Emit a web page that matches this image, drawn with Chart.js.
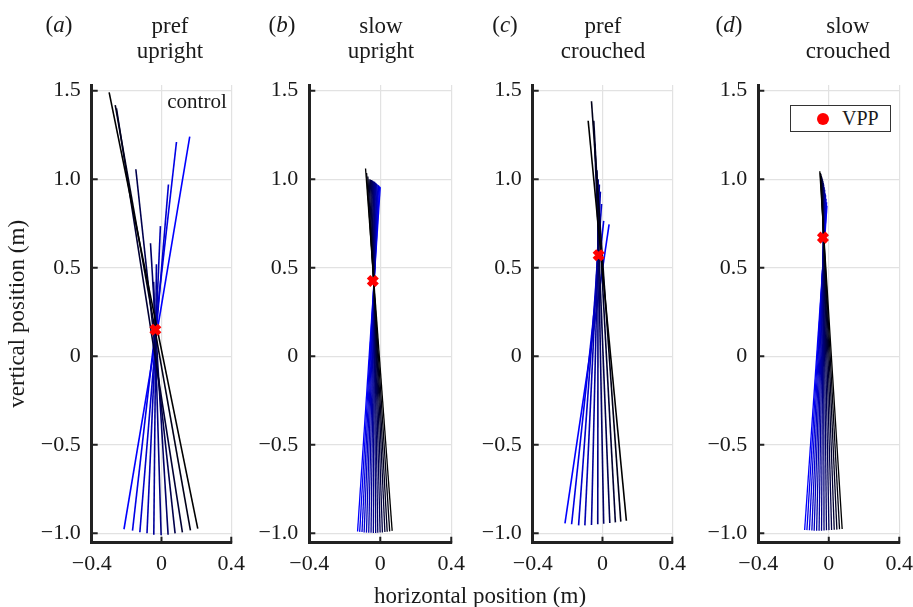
<!DOCTYPE html>
<html>
<head>
<meta charset="utf-8">
<script src="https://cdn.jsdelivr.net/npm/chart.js@4"></script>
<style>
  body { margin: 0; background: #fff; }
  #wrap { position: relative; width: 913px; height: 607px; overflow: hidden; font-family: "Liberation Serif", "DejaVu Serif", serif; color: #1a1a1a; }
  canvas { position: absolute; top: 0; }
  .t { position: absolute; font-size: 23px; line-height: 25px; text-align: center; white-space: nowrap; transform: translate(-50%, -50%); }
  .lab { position: absolute; font-size: 23px; white-space: nowrap; transform: translate(-50%, -50%); }
  #legend { position: absolute; left: 790px; top: 105px; width: 99px; height: 25px; border: 1px solid #333; background: #fff; font-size: 20px; }
  #legend .mk { position: absolute; left: 26px; top: 7px; width: 12px; height: 12px; border-radius: 50%; background: #ff0000; }
  #legend .tx { position: absolute; left: 51px; top: 0px; line-height: 25px; }
</style>
</head>
<body>
<div id="wrap">
  <canvas id="ca"></canvas>
  <canvas id="cb"></canvas>
  <canvas id="cc"></canvas>
  <canvas id="cd"></canvas>

  <div class="lab" style="left:59px; top:25px;">(<i>a</i>)</div>
  <div class="t" style="left:170px; top:38px;">pref<br>upright</div>
  <div class="lab" style="left:282px; top:25px;">(<i>b</i>)</div>
  <div class="t" style="left:381px; top:38px;">slow<br>upright</div>
  <div class="lab" style="left:505px; top:25px;">(<i>c</i>)</div>
  <div class="t" style="left:603px; top:38px;">pref<br>crouched</div>
  <div class="lab" style="left:729px; top:25px;">(<i>d</i>)</div>
  <div class="t" style="left:848px; top:38px;">slow<br>crouched</div>

  <div class="lab" style="left:197px; top:101px; font-size:21px;">control</div>
  <div id="legend"><span class="mk"></span><span class="tx">VPP</span></div>

  <div class="lab" style="left:480px; top:596px;">horizontal position (m)</div>
</div>

<script>
// tick values and labels
const xTicks = [-0.4, 0, 0.4];
const xTickLabels = ['\u22120.4', '0', '0.4'];
const yTicks = [-1.0, -0.5, 0, 0.5, 1.0, 1.5];
const yTickLabels = ['\u22121.0', '\u22120.5', '0', '0.5', '1.0', '1.5'];

// (a) pref upright - foot (bottom) and top end of each line
const aFootX = [-0.215, -0.166, -0.124, -0.083, -0.044, -0.002, 0.038, 0.078, 0.12, 0.166, 0.208];
const aFootY = [-0.977, -0.985, -0.994, -1.0, -1.008, -1.011, -1.008, -1.0, -0.994, -0.983, -0.974];
const aTopX = [0.162, 0.086, 0.04, -0.006, -0.029, -0.045, -0.063, -0.147, -0.258, -0.265, -0.30];
const aTopY = [1.24, 1.21, 0.97, 0.735, 0.52, 0.42, 0.638, 1.056, 1.40, 1.418, 1.49];
const aVpp = [-0.035, 0.15];

// (b) slow upright
const bFootX = [-0.128, -0.116, -0.103, -0.091, -0.078, -0.065, -0.052, -0.039, -0.026, -0.014, -0.001, 0.012, 0.026, 0.039, 0.053, 0.067];
const bFootY = [-0.99, -0.992, -0.993, -0.995, -0.996, -0.997, -0.997, -0.998, -0.998, -0.997, -0.996, -0.995, -0.993, -0.991, -0.989, -0.986];
const bTopX = [0.0, -0.004, -0.009, -0.013, -0.018, -0.022, -0.027, -0.032, -0.038, -0.044, -0.05, -0.056, -0.063, -0.07, -0.077, -0.083];
const bTopY = [0.955, 0.96, 0.965, 0.968, 0.972, 0.976, 0.98, 0.985, 0.989, 0.992, 0.995, 0.998, 1.0, 1.015, 1.035, 1.06];
const bVpp = [-0.042, 0.425];

// (c) pref crouched
const cFootX = [-0.215, -0.177, -0.137, -0.101, -0.063, -0.027, 0.007, 0.042, 0.074, 0.105, 0.137];
const cFootY = [-0.944, -0.949, -0.955, -0.955, -0.953, -0.949, -0.946, -0.942, -0.938, -0.934, -0.929];
const cTopX = [0.038, 0.007, -0.005, -0.012, -0.018, -0.025, -0.032, -0.045, -0.05, -0.063, -0.082];
const cTopY = [0.745, 0.765, 0.86, 0.93, 0.97, 1.0, 1.05, 1.2, 1.33, 1.44, 1.33];
const cVpp = [-0.022, 0.57];

// (d) slow crouched
const dFootX = [-0.137, -0.124, -0.11, -0.096, -0.083, -0.069, -0.055, -0.041, -0.027, -0.013, 0.001, 0.016, 0.031, 0.046, 0.061, 0.076];
const dFootY = [-0.981, -0.982, -0.983, -0.984, -0.985, -0.985, -0.985, -0.985, -0.984, -0.983, -0.982, -0.981, -0.98, -0.979, -0.977, -0.976];
const dTopX = [-0.01, -0.012, -0.015, -0.018, -0.02, -0.023, -0.026, -0.029, -0.031, -0.034, -0.036, -0.039, -0.042, -0.045, -0.048, -0.051];
const dTopY = [0.85, 0.87, 0.89, 0.91, 0.92, 0.94, 0.955, 0.97, 0.98, 0.99, 1.0, 1.01, 1.02, 1.03, 1.035, 1.045];
const dVpp = [-0.033, 0.67];

const FONT = "'Liberation Serif', 'DejaVu Serif', serif";
const H = 607;

// MATLAB style ticks drawn inside the axes
const innerTicks = {
  id: 'innerTicks',
  afterDraw(chart) {
    const { ctx, chartArea: area, scales: { x, y } } = chart;
    ctx.save();
    ctx.strokeStyle = '#222';
    ctx.lineWidth = 2;
    ctx.beginPath();
    yTicks.forEach(v => {
      const py = y.getPixelForValue(v);
      ctx.moveTo(area.left, py);
      ctx.lineTo(area.left + 6, py);
    });
    xTicks.forEach(v => {
      const px = x.getPixelForValue(v);
      ctx.moveTo(px, area.bottom);
      ctx.lineTo(px, area.bottom - 6);
    });
    ctx.stroke();
    ctx.restore();
  }
};

function makePanel(id, canvasLeft, plotLeft, plotRight, footX, footY, topX, topY, vpp, lw, yTitle) {
  const canvas = document.getElementById(id);
  const yWidth = plotLeft - canvasLeft;
  const padRight = 20;
  const width = Math.ceil(plotRight - canvasLeft + padRight);
  canvas.width = width;
  canvas.height = H;
  canvas.style.left = canvasLeft + 'px';

  const n = footX.length;
  const datasets = [{
    data: [{ x: vpp[0], y: vpp[1] }],
    showLine: false,
    pointStyle: 'crossRot',
    pointRadius: 6,
    borderColor: '#ff0000',
    backgroundColor: '#ff0000',
    pointBorderWidth: 5,
    order: -1
  }];
  for (let i = 0; i < n; i++) {
    const blue = Math.round(255 * (1 - i / (n - 1)));
    datasets.push({
      data: [{ x: footX[i], y: footY[i] }, { x: topX[i], y: topY[i] }],
      showLine: true,
      pointRadius: 0,
      borderWidth: lw,
      borderColor: 'rgb(0,0,' + blue + ')',
      order: n - i
    });
  }

  new Chart(canvas, {
    type: 'scatter',
    data: { datasets },
    plugins: [innerTicks],
    options: {
      responsive: false,
      animation: false,
      devicePixelRatio: 1,
      layout: { padding: { top: 85, right: width - (plotRight - canvasLeft), bottom: 0, left: 0 } },
      plugins: { legend: { display: false }, tooltip: { enabled: false } },
      scales: {
        x: {
          type: 'linear',
          min: -0.4,
          max: 0.4,
          afterBuildTicks: s => { s.ticks = xTicks.map(v => ({ value: v })); },
          afterFit: s => { s.height = H - 542.7; },
          ticks: {
            padding: 8,
            color: '#1a1a1a',
            font: { family: FONT, size: 22 },
            callback: v => xTickLabels[xTicks.indexOf(v)]
          },
          grid: { color: '#e2e2e2', lineWidth: 1.2, drawTicks: false },
          border: { display: true, color: '#222', width: 3 }
        },
        y: {
          type: 'linear',
          min: -1.053,
          max: 1.532,
          afterBuildTicks: s => { s.ticks = yTicks.map(v => ({ value: v })); },
          afterFit: s => { s.width = yWidth; },
          ticks: {
            padding: 11,
            color: '#1a1a1a',
            font: { family: FONT, size: 22 },
            callback: v => yTickLabels[yTicks.indexOf(v)]
          },
          grid: { color: '#e2e2e2', lineWidth: 1.2, drawTicks: false },
          border: { display: true, color: '#222', width: 3 },
          title: {
            display: !!yTitle,
            text: yTitle || '',
            color: '#1a1a1a',
            font: { family: FONT, size: 23 },
            padding: { top: 4, bottom: 4 }
          }
        }
      }
    }
  });
}

makePanel('ca', 0, 91.7, 232.7, aFootX, aFootY, aTopX, aTopY, aVpp, 1.6, 'vertical position (m)');
makePanel('cb', 234, 309.3, 452.3, bFootX, bFootY, bTopX, bTopY, bVpp, 1.3);
makePanel('cc', 457, 532.7, 673.4, cFootX, cFootY, cTopX, cTopY, cVpp, 1.6);
makePanel('cd', 683, 758.3, 900.5, dFootX, dFootY, dTopX, dTopY, dVpp, 1.3);
</script>
</body>
</html>
